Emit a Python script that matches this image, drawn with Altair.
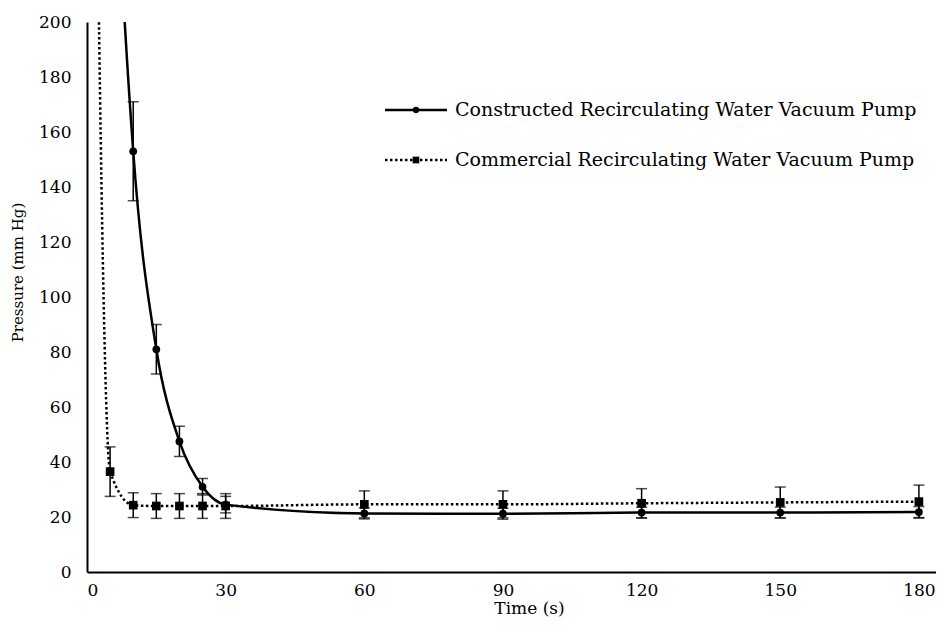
import altair as alt
import pandas as pd

# ---- data ----
time_s = [0, 5, 10, 15, 20, 25, 30, 60, 90, 120, 150, 180]
constructed = [580, 310, 153, 81, 47.5, 31, 24.5, 21.3, 21.2, 21.6, 21.6, 21.8]
constructed_err = [0, 0, 18, 9, 5.5, 3, 3, 2, 2, 2, 2, 2]
commercial = [580, 36.5, 24.3, 24, 24, 24, 24, 24.6, 24.6, 25.0, 25.3, 25.6]
commercial_err = [0, 9, 4.5, 4.5, 4.5, 4.5, 4.5, 4.9, 4.9, 5.3, 5.6, 6.0]
series_names = ["Constructed Recirculating Water Vacuum Pump",
                "Commercial Recirculating Water Vacuum Pump"]
x_ticks = [0, 30, 60, 90, 120, 150, 180]
y_ticks = [0, 20, 40, 60, 80, 100, 120, 140, 160, 180, 200]

FONT = "DejaVu Serif"

rows = []
for name, vals, errs in [(series_names[0], constructed, constructed_err),
                         (series_names[1], commercial, commercial_err)]:
    for t, v, e in zip(time_s, vals, errs):
        rows.append({"series": name, "time": t, "pressure": v,
                     "lo": v - e, "hi": v + e, "err": e})
df = pd.DataFrame(rows)
df_c = df[df.series == series_names[0]]
df_m = df[df.series == series_names[1]]
err_df = df[(df.err > 0) & (df.pressure <= 200)]

xscale = alt.Scale(domain=[0, 183.7], nice=False, zero=False)
yscale = alt.Scale(domain=[0, 200], nice=False)

X = alt.X("time:Q", scale=xscale,
          axis=alt.Axis(title="Time (s)", values=x_ticks, labelPadding=10,
                        titleX=442, titleY=41, titleAlign="center",
                        titleBaseline="alphabetic", titleFontSize=17))
Y = alt.Y("pressure:Q", scale=yscale,
          axis=alt.Axis(title="Pressure (mm Hg)", values=y_ticks, labelPadding=16,
                        titleX=-70, titleY=250, titleAlign="center",
                        titleBaseline="middle", titleAngle=270, titleFontSize=15))

line_c = alt.Chart(df_c).mark_line(
    interpolate="monotone", color="black", strokeWidth=2.5, clip=True
).encode(x=X, y=Y)

line_m = alt.Chart(df_m).mark_line(
    interpolate="monotone", color="black", strokeWidth=2.5,
    strokeDash=[2.5, 2.5], clip=True
).encode(x=X, y=Y)

bars = alt.Chart(err_df).mark_rule(color="black", strokeWidth=1.5).encode(
    x="time:Q", y="lo:Q", y2="hi:Q")
caps_lo = alt.Chart(err_df).mark_tick(
    color="black", orient="horizontal", size=11, thickness=1.5).encode(
    x="time:Q", y="lo:Q")
caps_hi = alt.Chart(err_df).mark_tick(
    color="black", orient="horizontal", size=11, thickness=1.5).encode(
    x="time:Q", y="hi:Q")

pts_c = alt.Chart(df_c).mark_point(
    shape="circle", filled=True, color="black", size=60, opacity=1, clip=True
).encode(x=X, y=Y)
pts_m = alt.Chart(df_m).mark_point(
    shape="square", filled=True, color="black", size=75, opacity=1, clip=True
).encode(x=X, y=Y)

# ---- legend (drawn inside the plot) ----
leg1 = pd.DataFrame({"label": [series_names[0]]})
leg2 = pd.DataFrame({"label": [series_names[1]]})

leg_line1 = alt.Chart(leg1).mark_rule(color="black", strokeWidth=2.5).encode(
    x=alt.value(298), x2=alt.value(360), y=alt.value(88))
leg_pt1 = alt.Chart(leg1).mark_point(
    shape="circle", filled=True, color="black", size=40, opacity=1).encode(
    x=alt.value(329), y=alt.value(88))
leg_txt1 = alt.Chart(leg1).mark_text(
    align="left", baseline="middle", font=FONT, fontSize=19, color="black").encode(
    x=alt.value(368), y=alt.value(88), text="label:N")

leg_line2 = alt.Chart(leg2).mark_rule(
    color="black", strokeWidth=2.5, strokeDash=[2.5, 2.5]).encode(
    x=alt.value(298), x2=alt.value(360), y=alt.value(138))
leg_pt2 = alt.Chart(leg2).mark_point(
    shape="square", filled=True, color="black", size=45, opacity=1).encode(
    x=alt.value(329), y=alt.value(138))
leg_txt2 = alt.Chart(leg2).mark_text(
    align="left", baseline="middle", font=FONT, fontSize=19, color="black").encode(
    x=alt.value(368), y=alt.value(138), text="label:N")

chart = alt.layer(
    line_m, line_c, bars, caps_lo, caps_hi, pts_m, pts_c,
    leg_line1, leg_pt1, leg_txt1, leg_line2, leg_pt2, leg_txt2
).properties(
    width=849, height=550,
    autosize=alt.AutoSizeParams(type="none"),
    padding={"left": 79, "top": 14, "right": 0, "bottom": 47},
).configure_view(stroke=None).configure_axis(
    grid=False, ticks=False, domainColor="black", domainWidth=2,
    labelFont=FONT, labelFontSize=17, labelColor="black",
    titleFont=FONT, titleColor="black", titleFontWeight="normal",
)

chart.save("out.html", embed_options={"renderer": "svg", "actions": False})
